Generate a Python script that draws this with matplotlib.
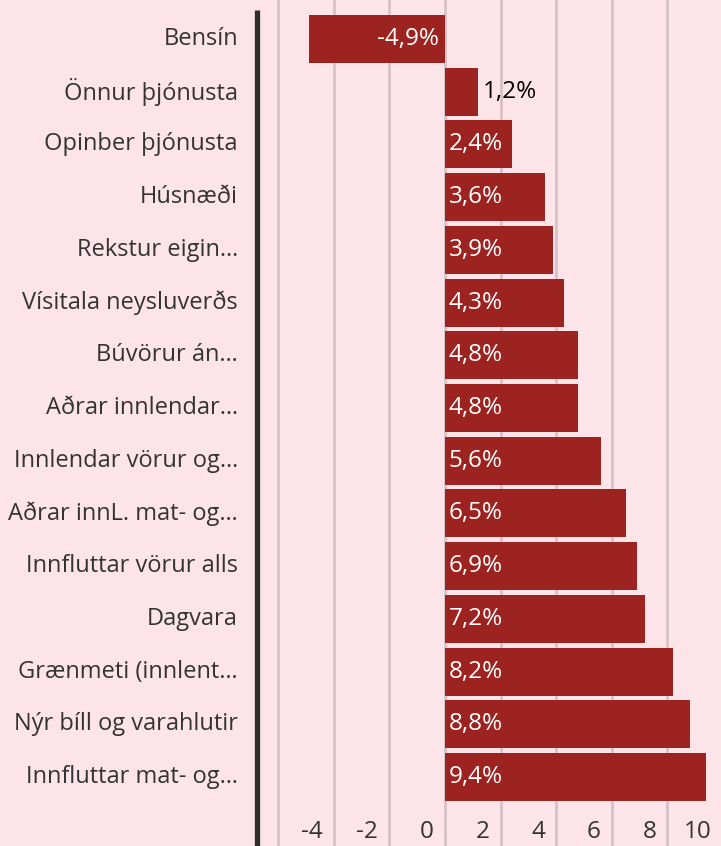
import matplotlib
matplotlib.use("Agg")
import matplotlib.pyplot as plt

categories = ["Bensín", "Önnur þjónusta", "Opinber þjónusta", "Húsnæði",
              "Rekstur eigin…", "Vísitala neysluverðs", "Búvörur án…",
              "Aðrar innlendar…", "Innlendar vörur og…", "Aðrar innL. mat- og…",
              "Innfluttar vörur alls", "Dagvara", "Grænmeti (innlent…",
              "Nýr bíll og varahlutir", "Innfluttar mat- og…"]
values = [-4.9, 1.2, 2.4, 3.6, 3.9, 4.3, 4.8, 4.8, 5.6, 6.5, 6.9, 7.2, 8.2, 8.8, 9.4]
value_labels = ["-4,9%", "1,2%", "2,4%", "3,6%", "3,9%", "4,3%", "4,8%", "4,8%",
                "5,6%", "6,5%", "6,9%", "7,2%", "8,2%", "8,8%", "9,4%"]
ticks = [-4, -2, 0, 2, 4, 6, 8, 10]
grid_vals = [-6, -4, -2, 0, 2, 4, 6, 8]

BG = "#fde4e9"
BAR = "#9c2320"
TXT = "#333333"
plt.rcParams['font.family'] = ['Open Sans', 'DejaVu Sans']

W, H = 721, 846
fig = plt.figure(figsize=(W / 100, H / 100), dpi=100, facecolor=BG)
left_px = 257
ax = fig.add_axes([left_px / W, 0, 1 - left_px / W, 1])
ax.set_facecolor(BG)
ax.set_xlim(-6.76, 9.93)
ax.set_ylim(15.31, -0.74)
for s in ax.spines.values():
    s.set_visible(False)
ax.set_xticks([])
ax.set_yticks([])

for g in grid_vals:
    ax.axvline(g, color="#d6c2c7", lw=2.0, zorder=0)

ypos = list(range(len(values)))
ax.barh(ypos, values, height=0.91, color=BAR, zorder=2)

# thick left line
ax.plot([0, 0], [0, 1 - 10 / H], transform=ax.transAxes, color="#2d2d2d",
        lw=3.8, solid_capstyle="butt", clip_on=False, zorder=3)

px = 1 / 27.8  # data units per pixel
FS_V = 17.5
FS_C = 17
for y, v, lab in zip(ypos, values, value_labels):
    if v < 0:
        ax.text(-6 * px, y, lab, ha="right", va="center", color="white", fontsize=FS_V, zorder=4)
    elif v < 2:
        ax.text(v + 5 * px, y, lab, ha="left", va="center", color="black", fontsize=FS_V, zorder=4)
    else:
        ax.text(4 * px, y, lab, ha="left", va="center", color="white", fontsize=FS_V, zorder=4)

for y, c in zip(ypos, categories):
    ax.text(-6.76 - 19 * px, y, c, ha="right", va="center", color=TXT, fontsize=FS_C, clip_on=False)

for t in ticks:
    ax.text(t - 11 * px, 15.05, str(t), ha="right", va="center", color=TXT, fontsize=FS_V, zorder=4)

fig.savefig("out.png", dpi=100, facecolor=BG)
